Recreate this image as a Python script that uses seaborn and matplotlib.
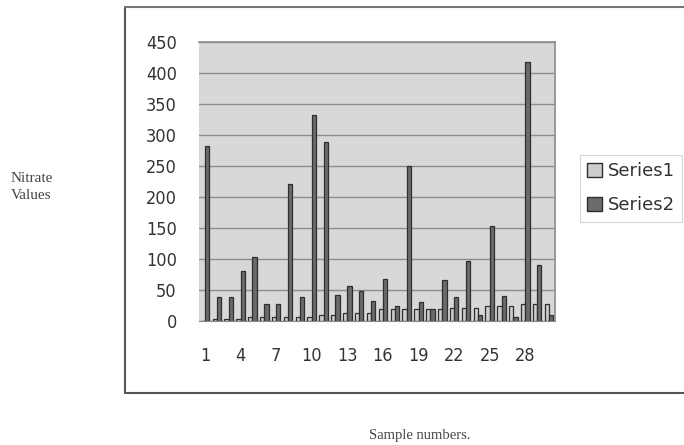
import matplotlib
matplotlib.use("Agg")
import matplotlib.pyplot as plt
import seaborn as sns
import pandas as pd
import numpy as np
from matplotlib.lines import Line2D

samples = list(range(1, 31))
series1 = [0, 3, 3, 3, 6, 6, 6, 7, 6, 7, 10, 10, 13, 13, 13,
           19, 19, 19, 19, 19, 19, 21, 21, 21, 25, 25, 25, 28, 28, 28]
series2 = [282, 39, 39, 80, 103, 27, 27, 221, 39, 333, 289, 42, 57, 48, 33,
           67, 25, 250, 30, 19, 66, 39, 97, 9, 154, 41, 6, 417, 90, 9]
series_names = ["Series1", "Series2"]
y_ticks = [0, 50, 100, 150, 200, 250, 300, 350, 400, 450]
x_tick_labels = ["1", "4", "7", "10", "13", "16", "19", "22", "25", "28"]

df = pd.DataFrame({
    "sample": [str(s) for s in samples] * 2,
    "value": series1 + series2,
    "series": [series_names[0]] * len(samples) + [series_names[1]] * len(samples),
})

sns.set_style("white")
plt.rcParams["font.family"] = ["DejaVu Sans"]
plt.rcParams["font.stretch"] = "condensed"

fig = plt.figure(figsize=(6.84, 4.45), dpi=100)
ax = fig.add_axes([199 / 684, 1 - 321 / 445, (555 - 199) / 684, (321 - 42) / 445])

palette = {"Series1": "#cdcdcd", "Series2": "#6b6b6b"}
sns.barplot(data=df, x="sample", y="value", hue="series", order=[str(s) for s in samples],
            palette=palette, width=0.72, edgecolor="#2e2e2e", linewidth=0.9,
            ax=ax, legend=False, saturation=1)

ax.set_facecolor("#d8d8d8")
ax.set_ylim(0, 450)
ax.set_xlim(-0.5, 29.5)
ax.set_yticks(y_ticks)
ax.set_yticklabels([str(v) for v in y_ticks], fontsize=13, color="#333333", fontstretch="condensed")
ax.yaxis.grid(True, color="#8c8c8c", linewidth=1.0)
ax.set_axisbelow(True)
ax.set_xticks(np.arange(0, 30, 3))
ax.set_xticklabels(x_tick_labels, fontsize=13, color="#333333", fontstretch="condensed")
ax.set_xticks(np.arange(-0.5, 30, 1), minor=True)
ax.tick_params(axis="x", which="major", length=0, pad=19)
ax.tick_params(axis="x", which="minor", length=3, color="#777777", direction="out")
ax.tick_params(axis="y", length=6, color="#8c8c8c", pad=10)
ax.set_xlabel("")
ax.set_ylabel("")
for side in ["top", "right"]:
    ax.spines[side].set_color("#8c8c8c")
    ax.spines[side].set_linewidth(1.2)
ax.spines["left"].set_visible(False)
ax.spines["bottom"].set_color("#8c8c8c")

# legend
handles = [plt.Rectangle((0, 0), 1, 1, facecolor=palette[n], edgecolor="#2e2e2e", linewidth=1)
           for n in series_names]
leg = fig.legend(handles, series_names, loc="upper left", bbox_to_anchor=(571 / 684, 1 - 146 / 445),
                 frameon=True, handlelength=0.8, handleheight=0.8,
                 labelspacing=0.9, borderpad=0.4, handletextpad=0.35, fancybox=False,
                 prop={"size": 13, "stretch": "normal"})
leg.get_frame().set_edgecolor("#cccccc")
leg.get_frame().set_linewidth(0.8)
for t in leg.get_texts():
    t.set_color("#333333")

# chart border frame
fx0, fy0, fy1 = 125 / 684, 1 - 393 / 445, 1 - 7 / 445
fig.add_artist(Line2D([fx0, fx0], [fy0, fy1], transform=fig.transFigure, color="#555555", lw=1.5))
fig.add_artist(Line2D([fx0, 1], [fy1, fy1], transform=fig.transFigure, color="#777777", lw=1.5))
fig.add_artist(Line2D([fx0, 1], [fy0, fy0], transform=fig.transFigure, color="#555555", lw=1.5))

fig.text(11 / 684, 1 - 187 / 445, "Nitrate\nValues", fontsize=11, family=["Liberation Serif", "DejaVu Serif"],
         color="#444444", va="center", ha="left", linespacing=1.45)
fig.text(420 / 684, 1 - 435 / 445, "Sample numbers.", fontsize=10.5, family=["Liberation Serif", "DejaVu Serif"],
         color="#444444", va="center", ha="center")

fig.savefig("out.png", dpi=100, facecolor="white")
